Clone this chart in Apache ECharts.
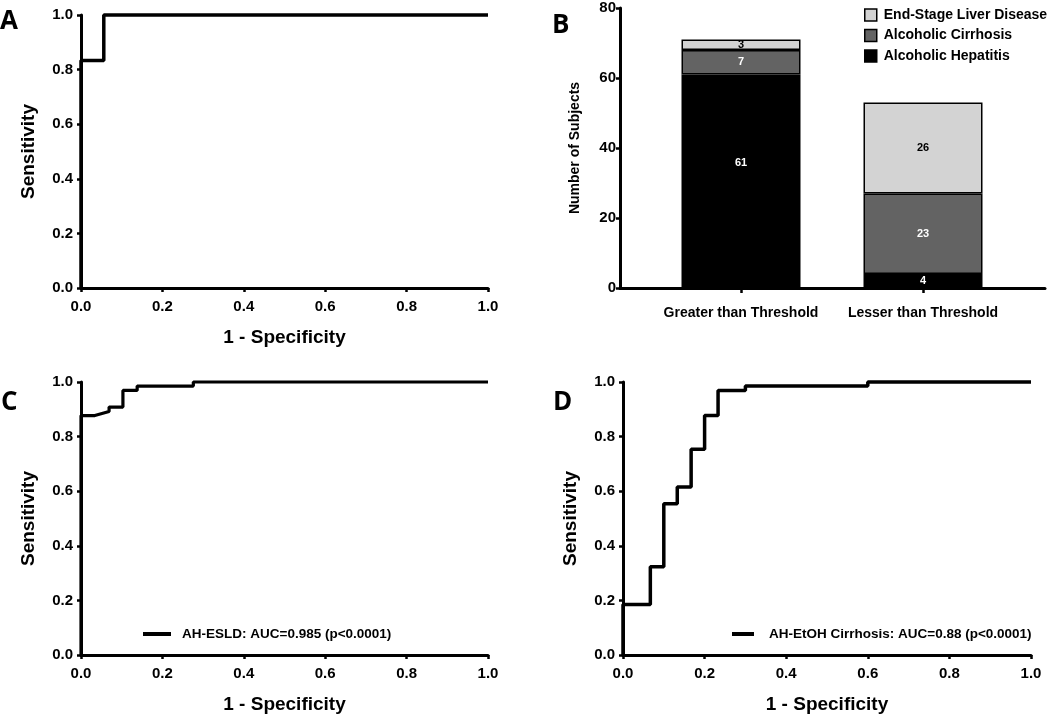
<!DOCTYPE html>
<html>
<head>
<meta charset="utf-8">
<script src="https://cdn.jsdelivr.net/npm/echarts@6/dist/echarts.min.js"></script>
<style>
html,body{margin:0;padding:0;background:#fff;}
#chart{width:1050px;height:717px;}
</style>
</head>
<body>
<div id="chart"></div>
<script>
// ---------- DATA ----------
// Panel A ROC (step vertices)
const rocA_fpr = [0, 0, 0.056, 0.056, 1];
const rocA_tpr = [0, 0.833, 0.833, 1, 1];

// Panel B stacked bars
const categoriesB = ['Greater than Threshold', 'Lesser than Threshold'];
const seriesNamesB = ['Alcoholic Hepatitis', 'Alcoholic Cirrhosis', 'End-Stage Liver Disease'];
const hepatitis = [61, 4];
const cirrhosis = [7, 23];
const esld = [3, 26];

// Panel C ROC
const rocC_name = 'AH-ESLD: AUC=0.985 (p<0.0001)';
const rocC_fpr = [0, 0, 0.034, 0.069, 0.069, 0.103, 0.103, 0.138, 0.138, 0.276, 0.276, 1];
const rocC_tpr = [0, 0.877, 0.877, 0.892, 0.908, 0.908, 0.969, 0.969, 0.985, 0.985, 1, 1];

// Panel D ROC
const rocD_name = 'AH-EtOH Cirrhosis: AUC=0.88 (p<0.0001)';
const rocD_fpr = [0, 0, 0.067, 0.067, 0.1, 0.1, 0.133, 0.133, 0.167, 0.167, 0.2, 0.2, 0.233, 0.233, 0.3, 0.3, 0.6, 0.6, 1];
const rocD_tpr = [0, 0.185, 0.185, 0.323, 0.323, 0.554, 0.554, 0.615, 0.615, 0.754, 0.754, 0.877, 0.877, 0.969, 0.969, 0.985, 0.985, 1, 1];

// Tick values
const rocTicks = [0, 0.2, 0.4, 0.6, 0.8, 1.0];
const countTicks = [0, 20, 40, 60, 80];

// ---------- LAYOUT / STYLE ----------
const FONT = '"Liberation Sans", Arial, sans-serif';
const LETTER_FONT = '"Open Sans", sans-serif';
const zip = (a, b) => a.map((v, i) => [v, b[i]]);

function rocX(gi) {
  return {
    type: 'value', gridIndex: gi, min: 0, max: 1, interval: 0.2,
    axisLine: {show: true, lineStyle: {color: '#000', width: 3}},
    axisTick: {show: true, length: 4, lineStyle: {color: '#000', width: 2.5}},
    splitLine: {show: false},
    axisLabel: {color: '#000', fontFamily: FONT, fontWeight: 'bold', fontSize: 15, margin: 11,
      formatter: v => v.toFixed(1)},
    name: '1 - Specificity', nameLocation: 'middle', nameGap: 40,
    nameTextStyle: {color: '#000', fontFamily: FONT, fontWeight: 'bold', fontSize: 19}
  };
}
function rocY(gi) {
  return {
    type: 'value', gridIndex: gi, min: 0, max: 1, interval: 0.2,
    axisLine: {show: true, lineStyle: {color: '#000', width: 3}},
    axisTick: {show: true, length: 4, lineStyle: {color: '#000', width: 2.5}},
    splitLine: {show: false},
    axisLabel: {color: '#000', fontFamily: FONT, fontWeight: 'bold', fontSize: 15, margin: 8,
      formatter: v => v.toFixed(1)},
    name: 'Sensitivity', nameLocation: 'middle', nameGap: 43,
    nameTextStyle: {color: '#000', fontFamily: FONT, fontWeight: 'bold', fontSize: 19}
  };
}
function rocSeries(name, xi, fpr, tpr, w) {
  return {
    type: 'line', name: name, xAxisIndex: xi, yAxisIndex: xi,
    data: zip(fpr, tpr), showSymbol: false, symbol: 'none', clip: false,
    lineStyle: {color: '#000', width: w}, itemStyle: {color: '#000'},
    animation: false
  };
}

const colorsB = {'Alcoholic Hepatitis': '#000000', 'Alcoholic Cirrhosis': '#636363', 'End-Stage Liver Disease': '#d3d3d3'};
const labelColorB = {'Alcoholic Hepatitis': '#fff', 'Alcoholic Cirrhosis': '#fff', 'End-Stage Liver Disease': '#000'};
const valuesB = [hepatitis, cirrhosis, esld];

// bars live in grid 4 (category axis, inset), axes frame in grid 1
const barSeries = seriesNamesB.map((nm, si) => ({
  type: 'bar', name: nm, xAxisIndex: 4, yAxisIndex: 4, stack: 'subj',
  barWidth: 119,
  data: valuesB[si].map((v, i) => {
    const d = {value: v};
    if (si === 0 && i === 0) d.label = {offset: [0, -18]};
    return d;
  }),
  itemStyle: {color: colorsB[nm], borderColor: '#000', borderWidth: 1.5},
  label: {show: true, position: 'inside', color: labelColorB[nm], fontFamily: FONT,
    fontWeight: 'bold', fontSize: 11},
  animation: false
}));

const option = {
  backgroundColor: '#fff',
  animation: false,
  grid: [
    {left: 81, top: 15, width: 407, height: 273, containLabel: false},
    {left: 620, top: 8, width: 425, height: 280, containLabel: false},
    {left: 81, top: 382, width: 407, height: 273, containLabel: false},
    {left: 623, top: 382, width: 408, height: 273, containLabel: false},
    {left: 650, top: 8, width: 364, height: 280, containLabel: false}
  ],
  xAxis: [
    rocX(0),
    {
      type: 'value', gridIndex: 1, min: 0, max: 1,
      axisLine: {show: true, lineStyle: {color: '#000', width: 3}},
      axisTick: {show: false}, axisLabel: {show: false}, splitLine: {show: false}
    },
    rocX(2),
    rocX(3),
    {
      type: 'category', gridIndex: 4, data: categoriesB,
      axisLine: {show: false},
      axisTick: {show: true, alignWithLabel: true, length: 5, lineStyle: {color: '#000', width: 2.5}},
      splitLine: {show: false},
      axisLabel: {color: '#000', fontFamily: FONT, fontWeight: 'bold', fontSize: 14, margin: 18, interval: 0}
    }
  ],
  yAxis: [
    rocY(0),
    {
      type: 'value', gridIndex: 1, min: 0, max: 80, interval: 20,
      axisLine: {show: true, lineStyle: {color: '#000', width: 3}},
      axisTick: {show: true, length: 4, lineStyle: {color: '#000', width: 2.5}},
      splitLine: {show: false},
      axisLabel: {color: '#000', fontFamily: FONT, fontWeight: 'bold', fontSize: 15, margin: 4},
      name: 'Number of Subjects', nameLocation: 'middle', nameGap: 38,
      nameTextStyle: {color: '#000', fontFamily: FONT, fontWeight: 'bold', fontSize: 14}
    },
    rocY(2),
    rocY(3),
    {
      type: 'value', gridIndex: 4, min: 0, max: 80, interval: 20, show: false,
      splitLine: {show: false}
    }
  ],
  legend: [
    {
      data: seriesNamesB.slice().reverse(), orient: 'vertical', left: 859, top: 3,
      itemWidth: 12, itemHeight: 12, itemGap: 6.5, icon: 'rect', selectedMode: false,
      itemStyle: {borderColor: '#000', borderWidth: 1.5},
      textStyle: {color: '#000', fontFamily: FONT, fontWeight: 'bold', fontSize: 14, padding: [0, 0, 0, 2]}
    },
    {
      data: [rocC_name], left: 138, top: 622, icon: 'rect', itemWidth: 28, itemHeight: 4,
      selectedMode: false,
      textStyle: {color: '#000', fontFamily: FONT, fontWeight: 'bold', fontSize: 13.5, padding: [0, 0, 0, 6]}
    },
    {
      data: [rocD_name], left: 727, top: 622, icon: 'rect', itemWidth: 22, itemHeight: 4,
      selectedMode: false,
      textStyle: {color: '#000', fontFamily: FONT, fontWeight: 'bold', fontSize: 13.5, padding: [0, 0, 0, 10]}
    }
  ],
  graphic: [
    {type: 'text', left: 0, top: 9, style: {text: 'A', fontFamily: LETTER_FONT, fontWeight: 'bold', fontSize: 26, fill: '#000'}},
    {type: 'text', left: 552, top: 13, style: {text: 'B', fontFamily: LETTER_FONT, fontWeight: 'bold', fontSize: 26, fill: '#000'}},
    {type: 'text', left: 1, top: 390, style: {text: 'C', fontFamily: LETTER_FONT, fontWeight: 'bold', fontSize: 26, fill: '#000'}},
    {type: 'text', left: 553, top: 390, style: {text: 'D', fontFamily: LETTER_FONT, fontWeight: 'bold', fontSize: 26, fill: '#000'}}
  ],
  series: [
    rocSeries('ROC A', 0, rocA_fpr, rocA_tpr, 3.5),
    ...barSeries,
    rocSeries(rocC_name, 2, rocC_fpr, rocC_tpr, 3.2),
    rocSeries(rocD_name, 3, rocD_fpr, rocD_tpr, 3.5)
  ]
};

const chart = echarts.init(document.getElementById('chart'), null, {renderer: 'canvas'});
chart.setOption(option);
</script>
</body>
</html>
